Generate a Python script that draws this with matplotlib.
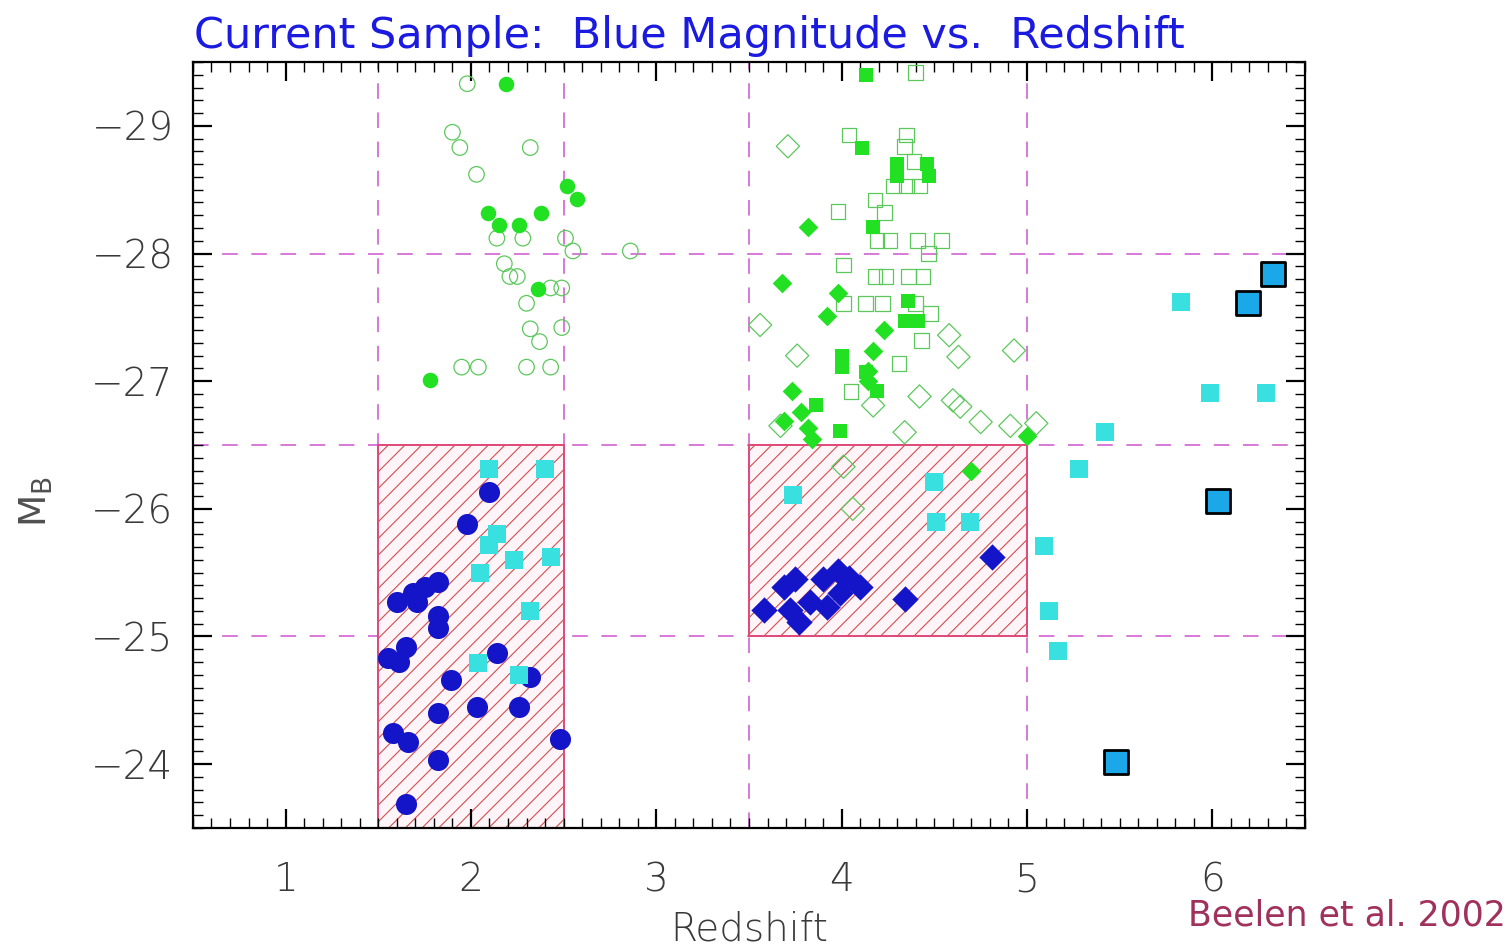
import matplotlib
matplotlib.use("Agg")
import matplotlib.pyplot as plt
from matplotlib.patches import Rectangle
from matplotlib.ticker import MultipleLocator

# ---------------- data ----------------
# z ~ 2 optical QSO sample: open circles (undetected) and filled circles (detected)
z2_open_z = [1.98, 1.90, 1.94, 2.32, 2.03, 2.14, 2.28, 2.51, 2.55, 2.86, 2.18, 2.21,
             2.25, 2.43, 2.49, 2.30, 2.32, 2.37, 2.49, 1.95, 2.04, 2.30, 2.43]
z2_open_mb = [-29.33, -28.95, -28.83, -28.83, -28.62, -28.12, -28.12, -28.12, -28.02,
              -28.02, -27.92, -27.82, -27.82, -27.73, -27.73, -27.61, -27.41, -27.31,
              -27.42, -27.11, -27.11, -27.11, -27.11]
z2_fill_z = [2.19, 2.52, 2.57, 2.09, 2.38, 2.15, 2.26, 2.36, 1.78]
z2_fill_mb = [-29.33, -28.53, -28.43, -28.32, -28.32, -28.22, -28.22, -27.72, -27.01]

# z ~ 4 optical QSO sample: open/filled squares and open/filled diamonds
z4_sq_open_z = [4.40, 4.04, 4.35, 4.34, 4.39, 4.28, 4.35, 4.42, 3.98, 4.18, 4.23, 4.19,
                4.26, 4.41, 4.54, 4.47, 4.01, 4.18, 4.24, 4.36, 4.44, 4.01, 4.13, 4.22,
                4.40, 4.48, 4.43, 4.31, 4.05]
z4_sq_open_mb = [-29.42, -28.93, -28.93, -28.84, -28.72, -28.53, -28.53, -28.53, -28.33,
                 -28.42, -28.32, -28.10, -28.10, -28.10, -28.10, -28.00, -27.91, -27.82,
                 -27.82, -27.82, -27.82, -27.61, -27.61, -27.61, -27.61, -27.53, -27.32,
                 -27.14, -26.92]
z4_sq_fill_z = [4.13, 4.11, 4.30, 4.30, 4.46, 4.47, 4.17, 4.36, 4.34, 4.41, 4.00, 4.00,
                4.13, 4.19, 3.86, 3.99]
z4_sq_fill_mb = [-29.40, -28.83, -28.70, -28.61, -28.70, -28.61, -28.21, -27.63, -27.47,
                 -27.47, -27.20, -27.11, -27.07, -26.92, -26.81, -26.61]
z4_dia_open_z = [3.71, 3.56, 3.76, 4.58, 4.63, 4.93, 4.42, 4.60, 4.64, 4.17, 4.34, 4.75,
                 4.91, 5.05, 3.67, 4.01, 4.06]
z4_dia_open_mb = [-28.84, -27.44, -27.20, -27.36, -27.19, -27.24, -26.88, -26.85, -26.80,
                  -26.81, -26.60, -26.68, -26.65, -26.67, -26.65, -26.33, -26.00]
z4_dia_fill_z = [3.82, 3.68, 3.98, 3.92, 4.23, 4.17, 4.14, 4.14, 3.73, 3.78, 3.69, 3.82,
                 3.84, 5.00, 4.70]
z4_dia_fill_mb = [-28.21, -27.77, -27.69, -27.51, -27.40, -27.24, -27.08, -27.00, -26.92,
                  -26.76, -26.69, -26.63, -26.55, -26.57, -26.30]

# Current sample: blue circles (z ~ 2) and blue diamonds (z ~ 4)
cur_circ_z = [2.10, 1.98, 1.82, 1.75, 1.69, 1.60, 1.71, 1.82, 1.82, 1.65, 1.55, 1.61,
              2.14, 2.32, 1.89, 2.03, 2.26, 1.82, 1.58, 1.66, 2.48, 1.82, 1.65]
cur_circ_mb = [-26.13, -25.88, -25.43, -25.39, -25.34, -25.27, -25.27, -25.16, -25.07,
               -24.92, -24.83, -24.80, -24.87, -24.68, -24.66, -24.45, -24.45, -24.40,
               -24.24, -24.17, -24.20, -24.03, -23.69]
cur_dia_z = [3.58, 3.77, 3.69, 3.75, 3.72, 3.83, 3.90, 3.92, 3.98, 3.99, 4.04, 4.10,
             4.34, 4.81]
cur_dia_mb = [-25.21, -25.11, -25.39, -25.45, -25.21, -25.27, -25.45, -25.23, -25.51,
              -25.34, -25.46, -25.39, -25.29, -25.62]

# Cyan squares
cyan_z = [2.10, 2.40, 2.14, 2.10, 2.23, 2.43, 2.05, 2.32, 2.04, 2.26,
          3.74, 4.50, 4.51, 4.69,
          5.83, 5.99, 6.29, 5.42, 5.28, 5.09, 5.12, 5.17]
cyan_mb = [-26.31, -26.31, -25.80, -25.72, -25.60, -25.62, -25.50, -25.20, -24.79, -24.70,
           -26.11, -26.21, -25.90, -25.90,
           -27.62, -26.91, -26.91, -26.60, -26.31, -25.71, -25.20, -24.89]

# Highest-redshift sources: outlined squares
zhi_z = [6.33, 6.19, 6.03, 5.48]
zhi_mb = [-27.84, -27.61, -26.06, -24.02]

# Selection boxes and guide lines
box_z = [(1.5, 2.5), (3.5, 5.0)]
box_mb = [(-26.5, -23.5), (-26.5, -25.0)]
guide_z = [1.5, 2.5, 3.5, 5.0]
guide_mb = [-28.0, -26.5, -25.0]

x_ticks = [1, 2, 3, 4, 5, 6]
y_ticks = [-29, -28, -27, -26, -25, -24]

# ---------------- figure ----------------
plt.rcParams["hatch.linewidth"] = 0.8

fig = plt.figure(figsize=(15.12, 9.47), dpi=100)
fig.patch.set_facecolor("white")
ax = fig.add_axes([0.1276, 0.1257, 0.7355, 0.8088])

ax.set_xlim(0.5, 6.5)
ax.set_ylim(-23.5, -29.5)

guide_col = "#d878d8"
for gz in guide_z:
    ax.axvline(gz, color=guide_col, lw=1.4, dashes=(8, 7), zorder=1)
for gm in guide_mb:
    ax.axhline(gm, color=guide_col, lw=1.4, dashes=(8, 7), zorder=1)

for (z0, z1), (m0, m1) in zip(box_z, box_mb):
    ax.add_patch(Rectangle((z0, m0), z1 - z0, m1 - m0, facecolor="#fff4f8",
                           edgecolor="none", zorder=1.2))
    ax.add_patch(Rectangle((z0, m0), z1 - z0, m1 - m0, facecolor="none",
                           edgecolor="#d05050", hatch="//", lw=0, zorder=1.3))
    ax.add_patch(Rectangle((z0, m0), z1 - z0, m1 - m0, facecolor="none",
                           edgecolor="#e04878", lw=1.4, zorder=1.4))

green = "#22e022"
open_green = "#5cc85c"
ax.scatter(z2_open_z, z2_open_mb, s=125, marker="o", facecolor="none",
           edgecolor=open_green, lw=0.9, zorder=3)
ax.scatter(z4_sq_open_z, z4_sq_open_mb, s=110, marker="s", facecolor="none",
           edgecolor=open_green, lw=0.9, zorder=3)
ax.scatter(z4_dia_open_z, z4_dia_open_mb, s=140, marker="D", facecolor="none",
           edgecolor=open_green, lw=0.9, zorder=3)
ax.scatter(z2_fill_z, z2_fill_mb, s=125, marker="o", color=green, lw=0, zorder=4)
ax.scatter(z4_sq_fill_z, z4_sq_fill_mb, s=115, marker="s", color=green, lw=0, zorder=4)
ax.scatter(z4_dia_fill_z, z4_dia_fill_mb, s=100, marker="D", color=green, lw=0, zorder=4)

blue = "#1414c8"
ax.scatter(cur_circ_z, cur_circ_mb, s=230, marker="o", color=blue, lw=0, zorder=5)
ax.scatter(cur_dia_z, cur_dia_mb, s=180, marker="D", color=blue, lw=0, zorder=5)
ax.scatter(cyan_z, cyan_mb, s=175, marker="s", color="#38e0e0", lw=0, zorder=6)
ax.scatter(zhi_z, zhi_mb, s=300, marker="s", facecolor="#1aa8e8", edgecolor="black",
           lw=2.0, zorder=7)

# axes styling (inward ticks on all sides, minor every 0.1)
ax.set_xticks(x_ticks)
ax.set_yticks(y_ticks)
ax.xaxis.set_minor_locator(MultipleLocator(0.1))
ax.yaxis.set_minor_locator(MultipleLocator(0.1))
ax.tick_params(which="both", direction="in", top=True, right=True, color="black")
ax.tick_params(which="major", length=14, width=1.6)
ax.tick_params(which="minor", length=7, width=1.0)
ax.tick_params(axis="x", which="major", pad=24)
ax.tick_params(axis="y", which="major", pad=14)
for lab in ax.get_xticklabels() + ax.get_yticklabels():
    lab.set_fontsize(28)
    lab.set_fontweight("light")
    lab.set_color("#3a3a3a")
for sp in ax.spines.values():
    sp.set_linewidth(1.6)
    sp.set_color("black")

ax.set_xlabel("Redshift", fontsize=28, fontweight="light", color="#3a3a3a", labelpad=8)
fig.text(0.024, 0.47, r"M$_\mathrm{B}$", rotation=90, fontsize=27, color="#505050",
         ha="center", va="center")

fig.text(0.128, 0.962, "Current Sample:  Blue Magnitude vs.  Redshift", fontsize=31,
         color="#1a1ae0", ha="left", va="center")
fig.text(0.996, 0.033, "Beelen et al. 2002", fontsize=25, color="#a0305c",
         ha="right", va="center")

fig.savefig("out.png", dpi=100, facecolor="white")
